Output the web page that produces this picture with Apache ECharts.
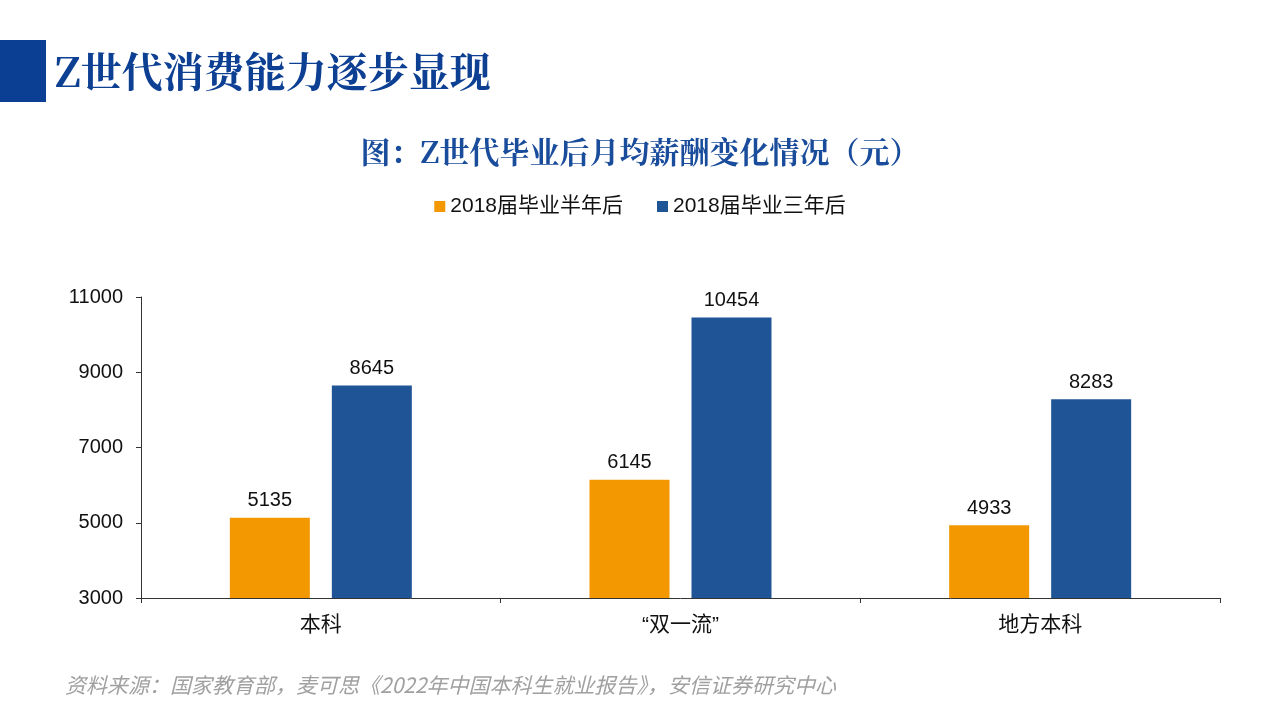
<!DOCTYPE html>
<html><head><meta charset="utf-8">
<script src="https://cdn.jsdelivr.net/npm/echarts@6/dist/echarts.min.js"></script>
<style>html,body{margin:0;padding:0;background:#fff;}#c{width:1280px;height:720px;}</style>
</head><body><div id="c"></div>
<script>
const categories = ['本科', '“双一流”', '地方本科'];
const seriesNames = ['2018届毕业半年后', '2018届毕业三年后'];
const halfYear = [5135, 6145, 4933];
const threeYear = [8645, 10454, 8283];
const yTicks = [3000, 5000, 7000, 9000, 11000];

const chart = echarts.init(document.getElementById('c'));
const font = '"Liberation Sans", Arial, "Noto Sans CJK SC", sans-serif';
chart.setOption({
  animation: false,
  textStyle: {fontFamily: font},
  graphic: [
    {type: 'rect', shape: {x: 0, y: 40, width: 46, height: 62}, style: {fill: '#0B3F94'}},
    {type: 'text', left: 55, top: 51, style: {text: 'Z世代消费能力逐步显现', font: 'bold 41px "Noto Serif CJK SC","Noto Sans CJK SC"', fill: '#0D3F93'}},
    {type: 'text', left: 65, top: 675, style: {text: '资料来源：国家教育部，麦可思《2022年中国本科生就业报告》，安信证券研究中心', font: 'italic 21px "Noto Sans CJK SC"', fill: '#a0a0a0'}}
  ],
  title: {
    text: '图：Z世代毕业后月均薪酬变化情况（元）',
    left: 'center', top: 132,
    textStyle: {fontSize: 30, fontWeight: 'bold', color: '#1A4C9C', fontFamily: '"Noto Serif CJK SC","Noto Sans CJK SC"'}
  },
  legend: {
    top: 191, left: 'center', itemWidth: 11, itemHeight: 11, itemGap: 34,
    icon: 'rect',
    textStyle: {fontSize: 21, color: '#111', fontFamily: font},
    data: seriesNames
  },
  grid: {left: 141, right: 60, top: 297, bottom: 122},
  xAxis: {
    type: 'category', data: categories,
    axisLine: {lineStyle: {color: '#333', width: 1}},
    axisTick: {show: true, length: 5, lineStyle: {color: '#333'}},
    axisLabel: {fontSize: 21, color: '#111', margin: 17}
  },
  yAxis: {
    type: 'value', min: 3000, max: 11000, interval: 2000,
    axisLine: {show: true, lineStyle: {color: '#333'}},
    axisTick: {show: true, length: 5, lineStyle: {color: '#333'}},
    splitLine: {show: false},
    axisLabel: {fontSize: 20, color: '#111', margin: 18, formatter: v => String(v)}
  },
  series: [
    {name: seriesNames[0], type: 'bar', data: halfYear, barWidth: 80, barGap: '27.5%',
     itemStyle: {color: '#F39800'},
     label: {show: true, position: 'top', fontSize: 20, color: '#111', distance: 7}},
    {name: seriesNames[1], type: 'bar', data: threeYear, barWidth: 80,
     itemStyle: {color: '#1F5496'},
     label: {show: true, position: 'top', fontSize: 20, color: '#111', distance: 7}}
  ]
});
</script></body></html>
